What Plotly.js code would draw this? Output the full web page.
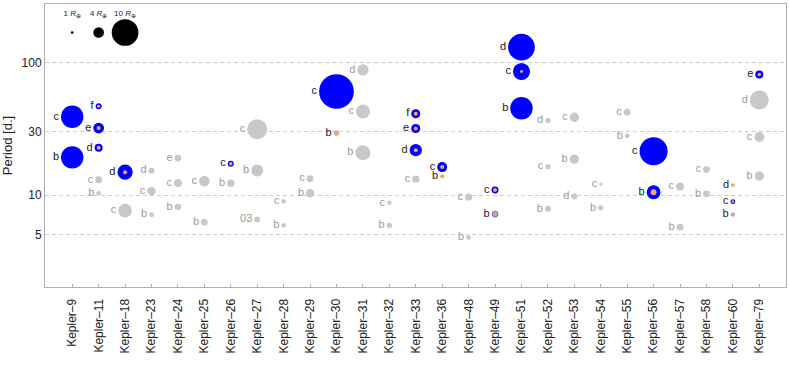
<!DOCTYPE html>
<html><head><meta charset="utf-8">
<script src="https://cdn.plot.ly/plotly-3.0.1.min.js"></script>
<style>html,body{margin:0;padding:0;background:#fff}#chart{width:789px;height:379px}</style>
</head><body><div id="chart"></div>
<script>
// ---- categories ----
const systems = ["Kepler–9","Kepler–11","Kepler–18","Kepler–23","Kepler–24","Kepler–25","Kepler–26","Kepler–27","Kepler–28","Kepler–29","Kepler–30","Kepler–31","Kepler–32","Kepler–33","Kepler–36","Kepler–48","Kepler–49","Kepler–51","Kepler–52","Kepler–53","Kepler–54","Kepler–55","Kepler–56","Kepler–57","Kepler–58","Kepler–60","Kepler–79"];

// ---- grey planets ----
const greySystem = ["Kepler–11","Kepler–11","Kepler–18","Kepler–23","Kepler–23","Kepler–23","Kepler–24","Kepler–24","Kepler–24","Kepler–25","Kepler–25","Kepler–26","Kepler–27","Kepler–27","Kepler–27","Kepler–28","Kepler–28","Kepler–29","Kepler–29","Kepler–31","Kepler–31","Kepler–31","Kepler–32","Kepler–32","Kepler–33","Kepler–48","Kepler–48","Kepler–52","Kepler–52","Kepler–52","Kepler–53","Kepler–53","Kepler–53","Kepler–54","Kepler–54","Kepler–55","Kepler–55","Kepler–57","Kepler–57","Kepler–58","Kepler–58","Kepler–79","Kepler–79","Kepler–79"];
const greyLabel  = ["b","c","c","b","c","d","b","c","e","b","c","b","b","c","03","b","c","b","c","b","c","d","b","c","c","b","c","b","c","d","b","c","d","b","c","b","c","b","c","b","c","b","c","d"];
const greyPeriod = [10.30,13.03,7.64,7.107,10.74,15.27,8.145,12.33,18.99,6.24,12.72,12.28,15.33,31.33,6.55,5.91,8.99,10.34,13.29,20.86,42.63,87.65,5.90,8.75,13.18,4.78,9.67,7.88,16.38,36.45,18.65,38.56,9.75,8.01,12.07,27.95,42.15,5.73,11.61,10.22,15.57,13.91,27.40,52.09];
const greyRadius = [1.7,2.6,5.1,1.8,3.2,2.2,2.4,3.0,2.5,2.5,4.0,2.8,4.5,7.5,2.2,1.7,1.7,3.0,2.5,5.6,5.2,4.2,2.0,1.7,2.7,1.8,2.7,2.2,2.0,2.0,3.5,3.5,2.2,2.0,1.2,1.8,2.5,2.5,3.0,2.5,2.5,3.5,3.7,7.1];

// ---- highlighted planets (blue = radius, orange dot = mass marker) ----
const blueSystem  = ["Kepler–9","Kepler–9","Kepler–11","Kepler–11","Kepler–11","Kepler–18","Kepler–26","Kepler–30","Kepler–30","Kepler–33","Kepler–33","Kepler–33","Kepler–36","Kepler–36","Kepler–49","Kepler–49","Kepler–51","Kepler–51","Kepler–51","Kepler–56","Kepler–56","Kepler–60","Kepler–60","Kepler–60","Kepler–79"];
const blueLabel   = ["b","c","d","e","f","d","c","b","c","d","e","f","b","c","b","c","b","c","d","b","c","b","c","d","e"];
const bluePeriod  = [19.24,38.91,22.69,31.99,46.69,14.86,17.25,29.33,60.32,21.78,31.78,41.03,13.84,16.24,7.20,10.91,45.15,85.31,130.18,10.50,21.40,7.13,8.92,11.90,81.07];
const blueRadius  = [8.4,8.4,3.0,4.0,2.25,5.7,2.25,2.1,13.0,4.6,3.4,3.4,0,3.75,2.5,2.6,8.4,6.4,10.0,5.2,10.5,1.6,1.8,0,3.0];
const blueOpacity = [1,1,1,1,1,1,1,0.3,1,1,1,1,1,1,0.55,1,1,1,1,1,1,0.45,1,1,1];
const dotRadius   = [0,0,1.5,1.5,1.2,1.5,1.3,1.8,0,1.5,1.5,1.5,1.5,1.5,1.6,1.5,0,1.1,0,2.2,0,1.3,1.0,1.4,1.3];

// ---- size key ----
const keyRadius = [1,4,10];
const keyLabel  = ["1 <i>R</i><sub>⊕</sub>","4 <i>R</i><sub>⊕</sub>","10 <i>R</i><sub>⊕</sub>"];

const PX_PER_R = 2.67;
const px = r => r * PX_PER_R;
// Plotly offsets 'middle left' text by (size/0.8+1)/2; pick a size so text sits ~1.5px off the disc
const labelSize = d => 0.8 * (d + 2);
const FONT = "Liberation Sans, Arial, sans-serif";
const NOLINE = {width:0, color:"rgba(0,0,0,0)"};

const keySystems = systems.slice(0, keyRadius.length);

const traces = [
  { // grey planets
    type:"scatter", mode:"markers", x:greySystem, y:greyPeriod,
    marker:{color:"#c8c8c8", size:greyRadius.map(px), opacity:1, line:NOLINE},
    hoverinfo:"skip"
  },
  { // grey labels
    type:"scatter", mode:"markers+text", x:greySystem, y:greyPeriod, text:greyLabel,
    textposition:"middle left", textfont:{family:FONT,size:11,color:"#9a9a9a"},
    marker:{color:"rgba(0,0,0,0)", opacity:0, size:greyRadius.map(r=>labelSize(px(r))), line:NOLINE},
    hoverinfo:"skip"
  },
  { // blue radius discs
    type:"scatter", mode:"markers", x:blueSystem, y:bluePeriod,
    marker:{color:"#0000ff", size:blueRadius.map(px), opacity:blueOpacity, line:NOLINE},
    hoverinfo:"skip"
  },
  { // orange dots
    type:"scatter", mode:"markers", x:blueSystem, y:bluePeriod,
    marker:{color:"#f6a35e", size:dotRadius.map(px), opacity:1, line:NOLINE},
    hoverinfo:"skip"
  },
  { // labels for highlighted planets
    type:"scatter", mode:"markers+text", x:blueSystem, y:bluePeriod, text:blueLabel,
    textposition:"middle left", textfont:{family:FONT,size:11,color:"#222"},
    marker:{color:"rgba(0,0,0,0)", opacity:0, size:blueRadius.map((r,i)=>labelSize(px(Math.max(r,dotRadius[i])))), line:NOLINE},
    hoverinfo:"skip"
  },
  { // size key discs
    type:"scatter", mode:"markers", x:keySystems, y:keySystems.map(()=>168),
    marker:{color:"#000", size:keyRadius.map(px), opacity:1, line:NOLINE}, hoverinfo:"skip"
  },
  { // size key labels
    type:"scatter", mode:"text", x:keySystems, y:keySystems.map(()=>232), text:keyLabel,
    textposition:"middle center", textfont:{family:FONT,size:8,color:"#222"}, hoverinfo:"skip"
  }
];

const layout = {
  width:789, height:379,
  margin:{l:45, r:3, t:4, b:92},
  paper_bgcolor:"#fff", plot_bgcolor:"#fff",
  showlegend:false,
  font:{family:FONT, color:"#222"},
  xaxis:{
    type:"category", categoryorder:"array", categoryarray:systems,
    range:[-1.03, 27.01], tickangle:-90,
    ticks:"inside", ticklen:3, tickcolor:"#b0b0b0",
    tickfont:{family:FONT,size:12,color:"#222"},
    showgrid:false, showline:true, linecolor:"#b0b0b0", linewidth:1, mirror:true,
    zeroline:false, ticklabelstandoff:6
  },
  yaxis:{
    type:"log", range:[0.307, 2.44],
    tickvals:[5,10,30,100], ticktext:["5","10","30","100"],
    tickfont:{family:FONT,size:12,color:"#222"},
    ticks:"", showgrid:true, gridcolor:"#cccccc", gridwidth:1, griddash:"4px,3px",
    showline:true, linecolor:"#b0b0b0", linewidth:1, mirror:true, zeroline:false,
    title:{text:"Period [d.]", font:{family:FONT,size:13,color:"#222"}, standoff:6}
  }
};

Plotly.newPlot("chart", traces, layout, {staticPlot:true, displayModeBar:false});
</script></body></html>
